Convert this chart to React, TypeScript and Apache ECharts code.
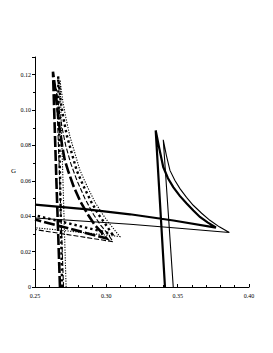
import React, { useEffect, useRef } from "react";
import * as echarts from "echarts";

// x tick labels and y tick labels
const xTicks = [0.25, 0.3, 0.35, 0.4];
const yTicks = [0, 0.02, 0.04, 0.06, 0.08, 0.1, 0.12];

// Right group: solid thick swallowtail (bottom -> upper cusp -> curve -> tip -> left)
const solidThick: number[][] = [
  [0.3411, 0], [0.3378, 0.045], [0.3346, 0.0885],
  [0.3372, 0.078], [0.3399, 0.0678], [0.3432, 0.0615], [0.3469, 0.0565],
  [0.3515, 0.0515], [0.3563, 0.0472], [0.3610, 0.0432], [0.3656, 0.0396],
  [0.3712, 0.0364], [0.3768, 0.0336],
  [0.3470, 0.0376], [0.3166, 0.0411], [0.2850, 0.0440], [0.25, 0.0466],
];
// Right group: solid thin swallowtail
const solidThin: number[][] = [
  [0.3469, 0], [0.3434, 0.042], [0.3399, 0.0832],
  [0.3422, 0.074], [0.3446, 0.0659], [0.3480, 0.0603], [0.3516, 0.0556],
  [0.3562, 0.0507], [0.3609, 0.0462], [0.3668, 0.0417], [0.3726, 0.0377],
  [0.3792, 0.0340], [0.3862, 0.0308],
  [0.3510, 0.0332], [0.3166, 0.0355], [0.2850, 0.0372], [0.25, 0.0390],
];
// Left group: thick long dash
const longDash: number[][] = [
  [0.2675, 0], [0.2650, 0.06], [0.2626, 0.1217],
  [0.2645, 0.11], [0.2658, 0.10], [0.2672, 0.09], [0.2690, 0.08],
  [0.2708, 0.072], [0.2731, 0.0659], [0.2770, 0.057], [0.2820, 0.048],
  [0.2870, 0.041], [0.2920, 0.035], [0.2965, 0.031], [0.3002, 0.0275],
  [0.2750, 0.0328], [0.25, 0.0381],
];
// Left group: thick square dots
const squareDots: number[][] = [
  [0.2690, 0], [0.2676, 0.06], [0.2662, 0.119],
  [0.2680, 0.105], [0.2700, 0.095], [0.2725, 0.085], [0.2760, 0.075],
  [0.2792, 0.0659], [0.2840, 0.057], [0.2895, 0.048], [0.2945, 0.041],
  [0.2990, 0.036], [0.3015, 0.033], [0.3040, 0.030],
  [0.2770, 0.0353], [0.25, 0.0405],
];
// Left group: thin dotted
const thinDots: number[][] = [
  [0.2718, 0], [0.2696, 0.06], [0.2675, 0.117],
  [0.2695, 0.105], [0.2718, 0.095], [0.2745, 0.085], [0.2782, 0.075],
  [0.2815, 0.066], [0.2865, 0.057], [0.2920, 0.048], [0.2975, 0.041],
  [0.3020, 0.036], [0.3060, 0.032], [0.3095, 0.0285],
  [0.2800, 0.0311], [0.25, 0.0335],
];
// Left group: thin dashed
const thinDash: number[][] = [
  [0.2700, 0], [0.2675, 0.056], [0.2650, 0.112],
  [0.2670, 0.10], [0.2690, 0.09], [0.2715, 0.08], [0.2750, 0.07],
  [0.2795, 0.06], [0.2850, 0.05], [0.2910, 0.041], [0.2960, 0.035],
  [0.3010, 0.030], [0.3047, 0.0256],
  [0.2770, 0.0291], [0.25, 0.0325],
];

const fmt = (v: number) => (v === 0 ? "0" : v.toFixed(2));

export default function App() {
  const ref = useRef<HTMLDivElement>(null);
  useEffect(() => {
    if (!ref.current) return;
    const chart = echarts.init(ref.current, undefined, { renderer: "svg" });
    const font = "Liberation Serif";
    const mk = (name: string, data: number[][], width: number, type: any) => ({
      name,
      type: "line",
      data,
      showSymbol: false,
      symbol: "none",
      silent: true,
      lineStyle: { color: "#000", width, type, cap: "butt", join: "miter" },
    });
    chart.setOption({
      animation: false,
      backgroundColor: "#fff",
      grid: { left: 35, right: 24, top: 57, bottom: 66, containLabel: false },
      xAxis: {
        type: "value",
        min: 0.25,
        max: 0.4,
        interval: 0.05,
        axisLine: { onZero: false, lineStyle: { color: "#000", width: 1 } },
        axisTick: { show: true, inside: true, length: 3, lineStyle: { color: "#000" } },
        minorTick: { show: true, splitNumber: 5, length: 2, lineStyle: { color: "#000" } },
        splitLine: { show: false },
        axisLabel: {
          fontFamily: font,
          fontSize: 6,
          color: "#000",
          margin: 6,
          formatter: (v: number) => (xTicks.some((t) => Math.abs(t - v) < 1e-9) ? fmt(v) : ""),
        },
      },
      yAxis: {
        type: "value",
        min: 0,
        max: 0.13,
        interval: 0.02,
        axisLine: { show: true, onZero: false, lineStyle: { color: "#000", width: 1 } },
        axisTick: { show: true, inside: false, length: 3, lineStyle: { color: "#000" } },
        minorTick: { show: true, splitNumber: 2, length: 2, lineStyle: { color: "#000" } },
        splitLine: { show: false },
        axisLabel: {
          fontFamily: font,
          fontSize: 6,
          color: "#000",
          margin: 4,
          showMaxLabel: false,
          formatter: (v: number) => (yTicks.some((t) => Math.abs(t - v) < 1e-9) ? fmt(v) : ""),
        },
      },
      graphic: [
        {
          type: "text",
          left: 11,
          top: 167,
          style: { text: "G", fontFamily: font, fontSize: 7, fill: "#000" },
        },
      ],
      series: [
        mk("solidThick", solidThick, 2.2, "solid"),
        mk("solidThin", solidThin, 1.1, "solid"),
        mk("longDash", longDash, 2.6, [11, 3]),
        mk("squareDots", squareDots, 2.4, [2.4, 3]),
        mk("thinDots", thinDots, 1.1, [1.2, 1.4]),
        mk("thinDash", thinDash, 1.1, [5, 2]),
      ],
    });
    return () => chart.dispose();
  }, []);
  return (
    <div
      ref={ref}
      style={{ position: "fixed", left: 0, top: 0, width: 273, height: 353, background: "#fff" }}
    />
  );
}
